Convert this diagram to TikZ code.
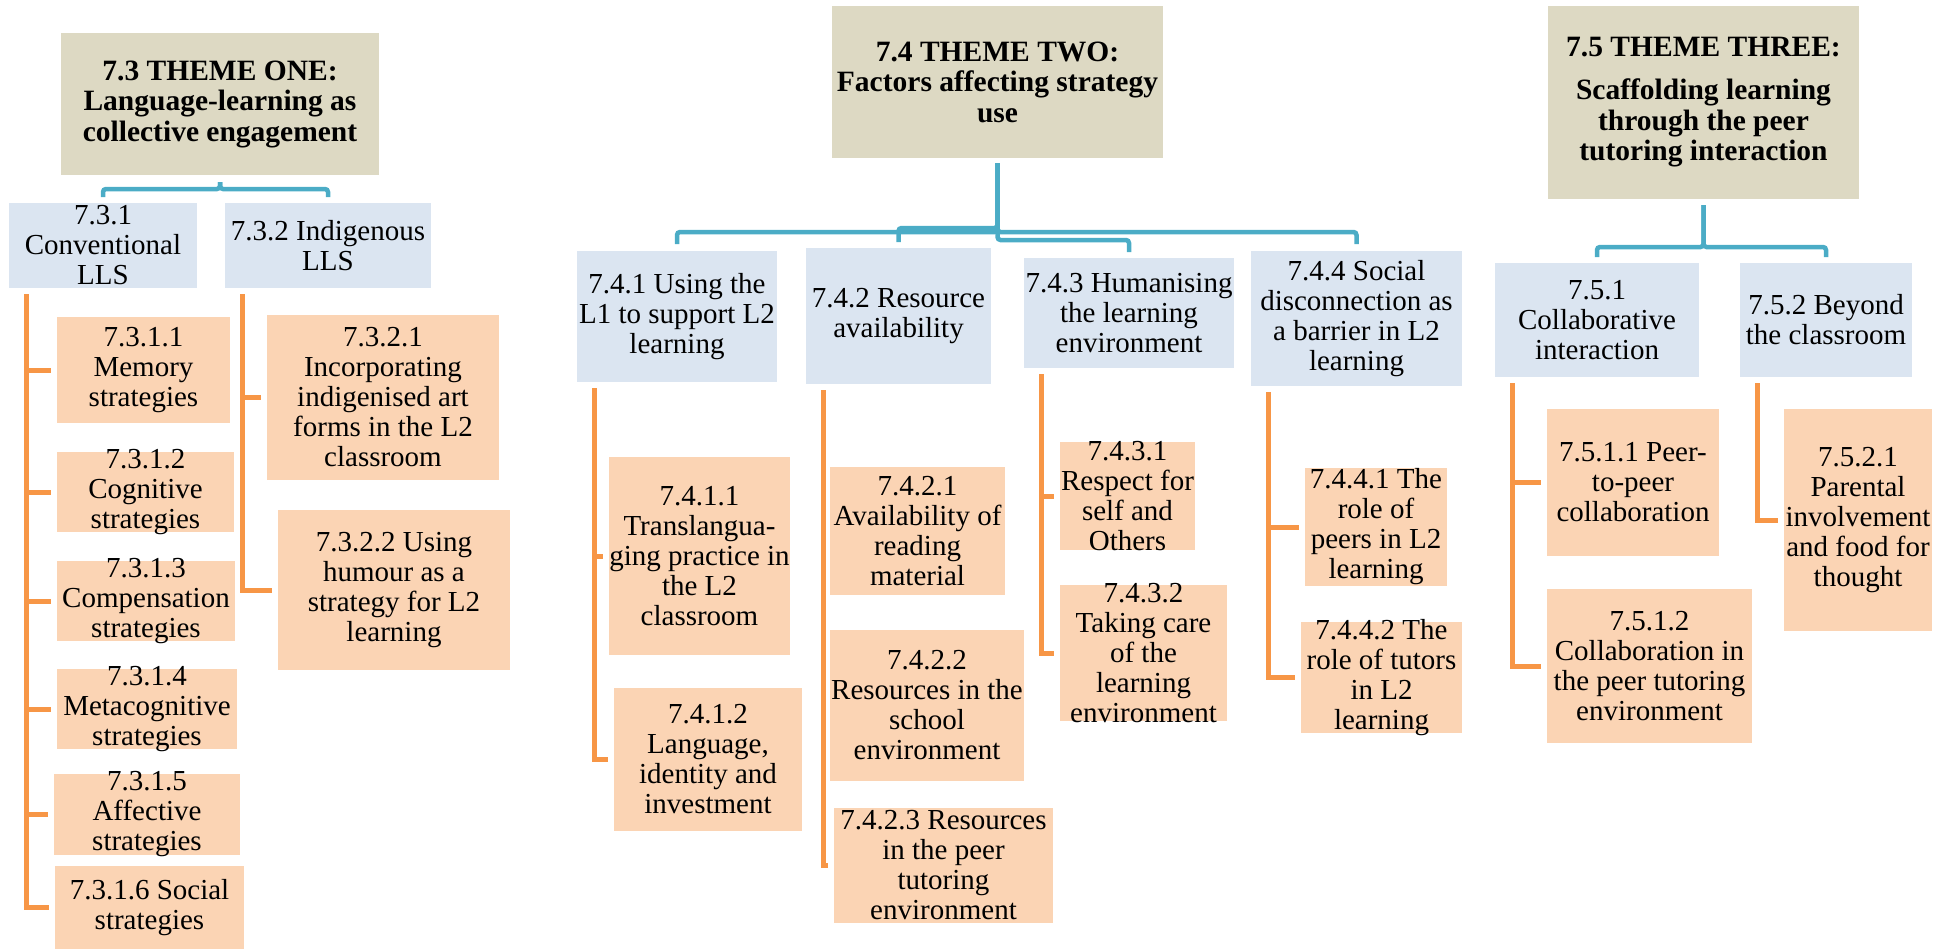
\documentclass[tikz,border=0pt]{standalone}
\usepackage{fontspec}
\setmainfont{Liberation Serif}
\usetikzlibrary{calc}

\definecolor{themefill}{HTML}{DDD9C3}
\definecolor{subfill}{HTML}{DBE5F1}
\definecolor{leaffill}{HTML}{FBD4B4}
\definecolor{linkblue}{HTML}{4BACC6}
\definecolor{linkorange}{HTML}{F79646}

% \placebox{style}{name}{x1}{y1}{x2}{y2}{text}: a filled box with its text centred on it
\newcommand{\placebox}[7]{%
  \node[#1, minimum width={(#5-#3)*1pt}, minimum height={(#6-#4)*1pt},
        label={[#1text]center:{#7}}] (#2) at (#3,#4) {};}

\tikzset{
  boxbase/.style={anchor=north west, inner sep=0pt, outer sep=0pt, draw=none},
  theme/.style={boxbase, fill=themefill},
  themetext/.style={align=center, inner sep=0pt, font=\bfseries\fontsize{29.5}{30.5}\selectfont},
  sub/.style={boxbase, fill=subfill},
  subtext/.style={align=center, inner sep=0pt, font=\fontsize{29}{30}\selectfont},
  leaf/.style={boxbase, fill=leaffill},
  leaftext/.style={align=center, inner sep=0pt, font=\fontsize{29}{30}\selectfont},
  bluelink/.style={draw=linkblue, line width=4.5pt, rounded corners=3pt},
  orangelink/.style={draw=linkorange, line width=5pt},
}

\begin{document}
\begin{tikzpicture}[x=1pt,y=-1pt]
\useasboundingbox (0,0) rectangle (1949,950);

% ---------- Theme one ----------
\placebox{theme}{t1}{61}{33}{379}{175}{7.3 THEME ONE:\\Language-learning as\\collective engagement}
\placebox{sub}{c731}{9}{203}{197}{288}{7.3.1\\Conventional\\LLS}
\placebox{sub}{c732}{225}{203}{431}{288}{7.3.2 Indigenous\\LLS}
\placebox{leaf}{g7311}{57}{317}{230}{423}{7.3.1.1\\Memory\\strategies}
\placebox{leaf}{g7312}{57}{452}{234}{532}{7.3.1.2\\Cognitive\\strategies}
\placebox{leaf}{g7313}{57}{561}{235}{641}{7.3.1.3\\Compensation\\strategies}
\placebox{leaf}{g7314}{57}{669}{237}{749}{7.3.1.4\\Metacognitive\\strategies}
\placebox{leaf}{g7315}{54}{774}{240}{855}{7.3.1.5\\Affective\\strategies}
\placebox{leaf}{g7316}{55}{866}{244}{949}{7.3.1.6 Social\\strategies}
\placebox{leaf}{g7321}{267}{315}{499}{480}{7.3.2.1\\Incorporating\\indigenised art\\forms in the L2\\classroom}
\placebox{leaf}{g7322}{278}{510}{510}{670}{7.3.2.2 Using\\humour as a\\strategy for L2\\learning}

% ---------- Theme two ----------
\placebox{theme}{t2}{832}{6}{1163}{158}{7.4 THEME TWO:\\Factors affecting strategy\\use}
\placebox{sub}{c741}{577}{251}{777}{382}{7.4.1 Using the\\L1 to support L2\\learning}
\placebox{sub}{c742}{806}{248}{991}{384}{7.4.2 Resource\\availability}
\placebox{sub}{c743}{1024}{258}{1234}{368}{7.4.3 Humanising\\the learning\\environment}
\placebox{sub}{c744}{1251}{251}{1462}{386}{7.4.4 Social\\disconnection as\\a barrier in L2\\learning}
\placebox{leaf}{g7411}{609}{457}{790}{655}{7.4.1.1\\Translangua-\\ging practice in\\the L2\\classroom}
\placebox{leaf}{g7412}{614}{688}{802}{831}{7.4.1.2\\Language,\\identity and\\investment}
\placebox{leaf}{g7421}{830}{467}{1005}{595}{7.4.2.1\\Availability of\\reading\\material}
\placebox{leaf}{g7422}{830}{630}{1024}{781}{7.4.2.2\\Resources in the\\school\\environment}
\placebox{leaf}{g7423}{834}{808}{1053}{923}{7.4.2.3 Resources\\in the peer\\tutoring\\environment}
\placebox{leaf}{g7431}{1060}{442}{1195}{550}{7.4.3.1\\Respect for\\self and\\Others}
\placebox{leaf}{g7432}{1060}{585}{1227}{721}{7.4.3.2\\Taking care\\of the\\learning\\environment}
\placebox{leaf}{g7441}{1305}{468}{1447}{586}{7.4.4.1 The\\role of\\peers in L2\\learning}
\placebox{leaf}{g7442}{1301}{622}{1462}{733}{7.4.4.2 The\\role of tutors\\in L2\\learning}

% ---------- Theme three ----------
\placebox{theme}{t3}{1548}{6}{1859}{199}{7.5 THEME THREE:\\[12.5pt]Scaffolding learning\\through the peer\\tutoring interaction}
\placebox{sub}{c751}{1495}{263}{1699}{377}{7.5.1\\Collaborative\\interaction}
\placebox{sub}{c752}{1740}{263}{1912}{377}{7.5.2 Beyond\\the classroom}
\placebox{leaf}{g7511}{1547}{409}{1719}{556}{7.5.1.1 Peer-\\to-peer\\collaboration}
\placebox{leaf}{g7512}{1547}{589}{1752}{743}{7.5.1.2\\Collaboration in\\the peer tutoring\\environment}
\placebox{leaf}{g7521}{1784}{409}{1932}{631}{7.5.2.1\\Parental\\involvement\\and food for\\thought}

% ---------- theme-to-subtheme links ----------
\foreach \c in {c731,c732}
  \draw[bluelink] ($(t1.south)+(0,7)$) -- ++(0,7) -| ($(\c.north)+(0,-6)$);

\draw[bluelink] ($(t2.south)+(0,5)$) -- ++(0,69) -| ($(c741.north)+(0,-7)$);
\draw[bluelink] ($(t2.south)+(0,5)$) -- ++(0,65) -| ($(c742.north)+(0,-6)$);
\draw[bluelink] ($(t2.south)+(0,5)$) -- ++(0,77) -| ($(c743.north)+(0,-6)$);
\draw[bluelink] ($(t2.south)+(0,5)$) -- ++(0,69) -| ($(c744.north)+(0,-7)$);

\foreach \c in {c751,c752}
  \draw[bluelink] ($(t3.south)+(0,6)$) -- ++(0,42) -| ($(\c.north)+(0,-6)$);

% ---------- subtheme-to-category links ----------
\foreach \p/\c in {c731/g7311,c731/g7312,c731/g7313,c731/g7314,c731/g7315,c731/g7316,
                   c732/g7321,c732/g7322,
                   c741/g7411,c741/g7412,
                   c742/g7421,c742/g7422,c742/g7423,
                   c743/g7431,c743/g7432,
                   c744/g7441,c744/g7442,
                   c751/g7511,c751/g7512,
                   c752/g7521}
  \draw[orangelink] ($(\p.south west)+(17,6)$) |- ($(\c.west)+(-6,0)$);

\end{tikzpicture}
\end{document}
